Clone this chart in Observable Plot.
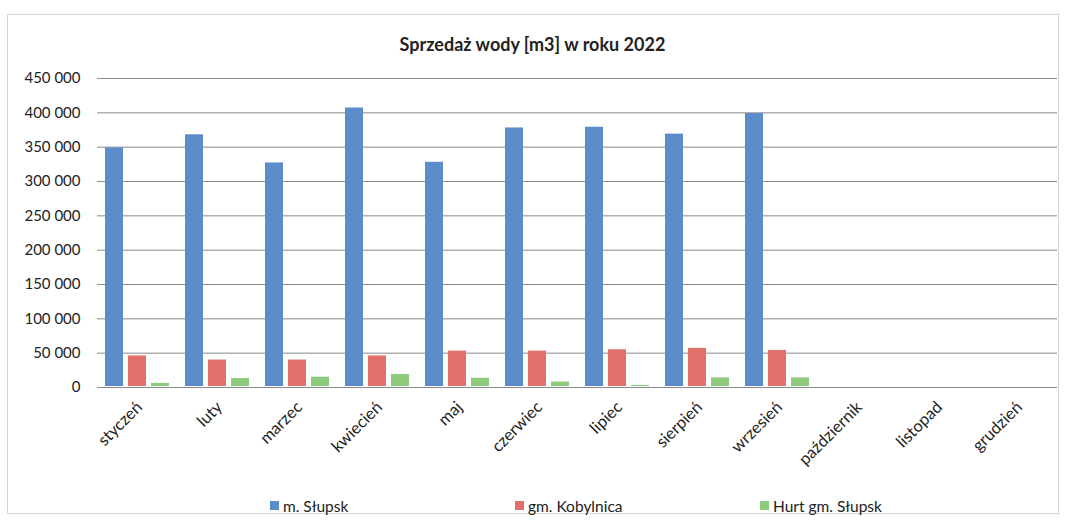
<!DOCTYPE html>
<html>
<head>
<meta charset="utf-8">
<script src="https://cdn.jsdelivr.net/npm/d3@7"></script>
<script src="https://cdn.jsdelivr.net/npm/@observablehq/plot@0.6"></script>
<style>
  body { margin: 0; background: #fff; font-family: Lato, "Open Sans", sans-serif; }
  #wrap { position: relative; width: 1065px; height: 522px; }
  #frame { position: absolute; left: 7px; top: 14px; width: 1052px; height: 500px; border: 1px solid #d4d4d4; box-sizing: border-box; }
  #title { position: relative; height: 60px; box-sizing: border-box; padding-top: 34px; text-align: center; font-weight: bold; font-size: 18px; line-height: 20px; color: #222; }
  #chart { position: relative; }
  #legend { position: relative; height: 52px; box-sizing: border-box; padding-top: 19px; padding-left: 270px; display: flex; font-size: 15.5px; color: #222; line-height: 20px; }
  .item { width: 245px; display: flex; align-items: center; }
  .sw { width: 9px; height: 9px; margin-right: 4px; }
</style>
</head>
<body>
<div id="wrap">
  <div id="frame"></div>
  <div id="title">Sprzedaż wody [m3] w roku 2022</div>
  <div id="chart"></div>
  <div id="legend"></div>
</div>
<script>
const months = ["styczeń","luty","marzec","kwiecień","maj","czerwiec","lipiec","sierpień","wrzesień","październik","listopad","grudzień"];
const series = ["m. Słupsk","gm. Kobylnica","Hurt gm. Słupsk"];
const colors = ["#5b8dca","#e0706a","#8fcb7c"];
const slupsk    = [349000, 368000, 327000, 407000, 328000, 378000, 379000, 369000, 399000];
const kobylnica = [46000, 40000, 40000, 46000, 53000, 53000, 55000, 57000, 54000];
const hurt      = [6000, 13000, 15000, 19000, 13500, 8000, 3000, 14000, 14000];
const yTicks = [0, 50000, 100000, 150000, 200000, 250000, 300000, 350000, 400000, 450000];

const values = [slupsk, kobylnica, hurt];
const data = [];
series.forEach((s, i) => values[i].forEach((v, j) => data.push({month: months[j], series: s, value: v})));
const grid = [];
months.forEach(m => yTicks.forEach(t => grid.push({month: m, tick: t})));

const fmt = d => d3.format(",")(d).replace(/,/g, " ");

const chart = Plot.plot({
  width: 1065,
  height: 410,
  marginTop: 18,
  marginBottom: 83,
  marginLeft: 95,
  marginRight: 7,
  style: {fontFamily: "Lato, 'Open Sans', sans-serif", background: "transparent"},
  fx: {domain: months, padding: 0, label: null},
  x: {domain: series, paddingInner: 0.234, paddingOuter: 0.325, axis: null},
  y: {domain: [0, 450000], label: null},
  color: {domain: series, range: colors},
  marks: [
    Plot.ruleY(grid, {fx: "month", y: "tick", stroke: "#8a8a8a", strokeWidth: 1}),
    Plot.barY(data, {fx: "month", x: "series", y: "value", fill: "series", insetBottom: 1}),
    Plot.axisY(yTicks, {tickSize: 0, tickPadding: 17, tickFormat: fmt, fontSize: 15, fill: "#222", label: null}),
    Plot.axisFx({anchor: "bottom", tickSize: 0, tickPadding: 17, tickRotate: -45, textAnchor: "end", fontSize: 16.5, fill: "#222", label: null, dx: 2})
  ]
});
document.getElementById("chart").appendChild(chart);

const legend = document.getElementById("legend");
series.forEach((s, i) => {
  const item = document.createElement("div");
  item.className = "item";
  const sw = document.createElement("span");
  sw.className = "sw";
  sw.style.background = colors[i];
  const t = document.createElement("span");
  t.textContent = s;
  item.appendChild(sw);
  item.appendChild(t);
  legend.appendChild(item);
});
</script>
</body>
</html>
